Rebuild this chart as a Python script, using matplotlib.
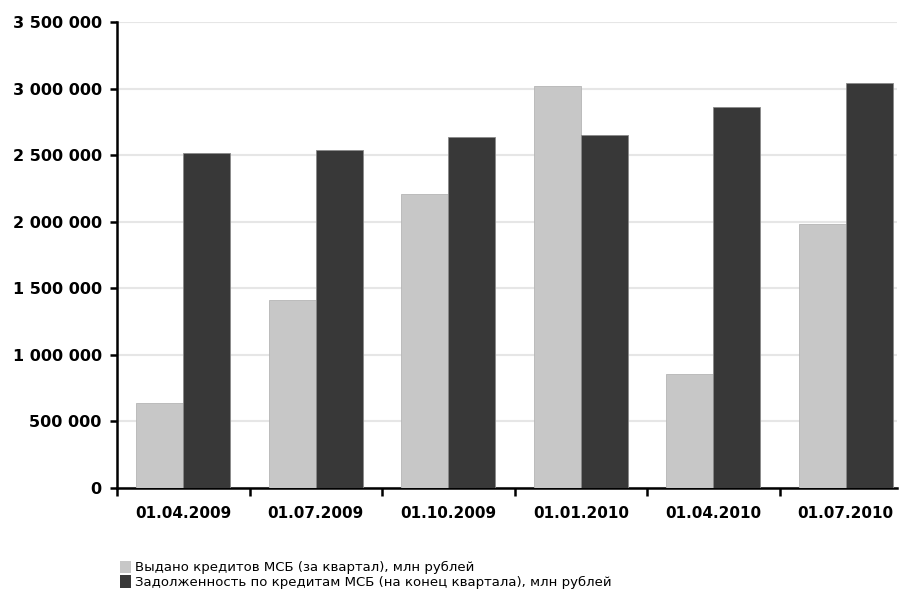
import numpy as np
import matplotlib.pyplot as plt
from matplotlib.ticker import FuncFormatter, MultipleLocator, FixedLocator
from matplotlib.patches import Patch

# Quarterly SME lending, mln rubles
dates = ["01.04.2009", "01.07.2009", "01.10.2009", "01.01.2010", "01.04.2010", "01.07.2010"]
issued = [641000, 1412000, 2208000, 3021000, 855000, 1981000]
debt = [2515000, 2539000, 2634000, 2651000, 2864000, 3039000]
labels = ["Выдано кредитов МСБ (за квартал), млн рублей",
          "Задолженность по кредитам МСБ (на конец квартала), млн рублей"]

light = "#c7c7c7"
dark = "#383838"

plt.rcParams['font.family'] = 'DejaVu Sans'

fig = plt.figure(figsize=(9.06, 5.94), dpi=100)
ax = fig.add_axes([117 / 906, 1 - 488 / 594, 780 / 906, 466 / 594])

x = np.arange(len(dates))
w = 0.355
ax.bar(x - w / 2, issued, w, color=light, edgecolor="#b5b5b5", linewidth=0.6, zorder=3)
ax.bar(x + w / 2, debt, w, color=dark, edgecolor="#8a8a8a", linewidth=0.6, zorder=3)

ax.set_ylim(0, 3500000)
ax.set_xlim(-0.5, -0.5 + 780 / 132.5)
ax.yaxis.set_major_locator(MultipleLocator(500000))
ax.yaxis.set_major_formatter(FuncFormatter(lambda v, p: f"{v:,.0f}".replace(",", " ")))
ax.grid(axis="y", color="#e6e6e6", linewidth=1.5, zorder=0)

ax.set_xticks(x)
ax.set_xticklabels(dates)
ax.xaxis.set_minor_locator(FixedLocator(np.arange(-0.5, 5.5, 1.0)))
ax.tick_params(axis="x", which="major", length=0, pad=13, labelsize=11)
ax.tick_params(axis="x", which="minor", length=6, width=1.8, direction="out", color="black")
ax.tick_params(axis="y", length=5, width=1.8, pad=6, labelsize=11.5)
for t in ax.get_xticklabels() + ax.get_yticklabels():
    t.set_fontweight("bold")

for s in ["top", "right"]:
    ax.spines[s].set_visible(False)
for s in ["left", "bottom"]:
    ax.spines[s].set_linewidth(1.8)

handles = [Patch(facecolor=light, edgecolor="none"), Patch(facecolor=dark, edgecolor="none")]
fig.legend(handles, labels, loc="upper left", bbox_to_anchor=(113 / 906, 1 - 554 / 594),
           frameon=False, fontsize=9.5, handlelength=0.9, handleheight=1.1,
           handletextpad=0.25, labelspacing=0.05, borderpad=0)

fig.savefig("out.png", dpi=100)
